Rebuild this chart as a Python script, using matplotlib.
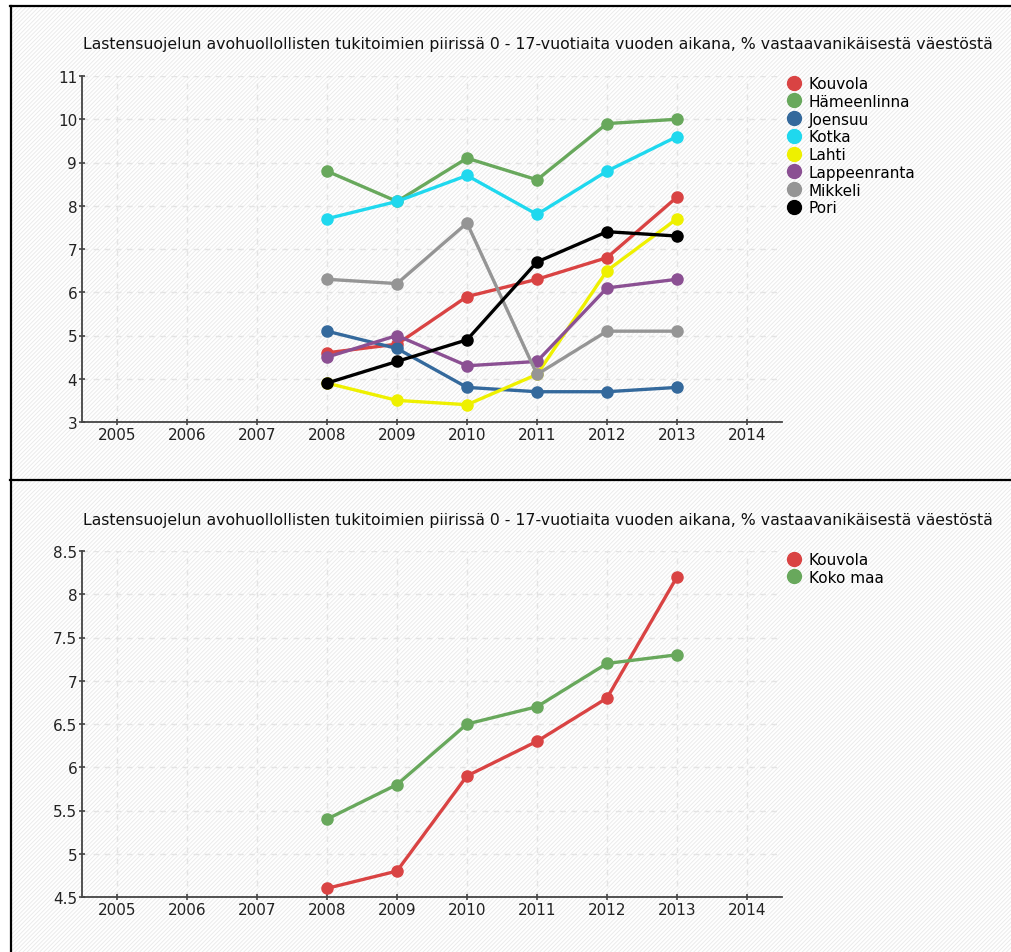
import matplotlib
matplotlib.use("Agg")
import matplotlib.pyplot as plt
from matplotlib.lines import Line2D
from matplotlib.patches import Rectangle

# ── Data ────────────────────────────────────────────────────────────────────
TITLE = ("Lastensuojelun avohuollollisten tukitoimien piirissä 0 - 17-vuotiaita "
         "vuoden aikana, % vastaavanikäisestä väestöstä")
YEARS = [2008, 2009, 2010, 2011, 2012, 2013]
XTICKS = [2005, 2006, 2007, 2008, 2009, 2010, 2011, 2012, 2013, 2014]

CITIES = ["Kouvola", "Hämeenlinna", "Joensuu", "Kotka", "Lahti",
          "Lappeenranta", "Mikkeli", "Pori"]
KOUVOLA = [4.6, 4.8, 5.9, 6.3, 6.8, 8.2]
HAMEENLINNA = [8.8, 8.1, 9.1, 8.6, 9.9, 10.0]
JOENSUU = [5.1, 4.7, 3.8, 3.7, 3.7, 3.8]
KOTKA = [7.7, 8.1, 8.7, 7.8, 8.8, 9.6]
LAHTI = [3.9, 3.5, 3.4, 4.1, 6.5, 7.7]
LAPPEENRANTA = [4.5, 5.0, 4.3, 4.4, 6.1, 6.3]
MIKKELI = [6.3, 6.2, 7.6, 4.1, 5.1, 5.1]
PORI = [3.9, 4.4, 4.9, 6.7, 7.4, 7.3]
KOKO_MAA = [5.4, 5.8, 6.5, 6.7, 7.2, 7.3]

TOP_YTICKS = [3, 4, 5, 6, 7, 8, 9, 10, 11]
BOTTOM_YTICKS = [4.5, 5, 5.5, 6, 6.5, 7, 7.5, 8, 8.5]
BOTTOM_YLABELS = ["4.5", "5", "5.5", "6", "6.5", "7", "7.5", "8", "8.5"]

# ── Colours ─────────────────────────────────────────────────────────────────
COLOURS = {
    "Kouvola": "#d94343",
    "Hämeenlinna": "#68a85c",
    "Joensuu": "#34699c",
    "Kotka": "#1fd8ee",
    "Lahti": "#eef000",
    "Lappeenranta": "#8b5093",
    "Mikkeli": "#959595",
    "Pori": "#000000",
    "Koko maa": "#68a85c",
}

W, H = 1012, 953
plt.rcParams["hatch.linewidth"] = 0.7
plt.rcParams["font.family"] = "DejaVu Sans"

fig = plt.figure(figsize=(W / 100, H / 100), dpi=100)
fig.patch.set_facecolor("white")

# hatched background inside the frame
bg = Rectangle((10 / W, 0), 1 - 10 / W, 1 - 6 / H, transform=fig.transFigure,
               facecolor="white", edgecolor="#ebebeb", hatch="////////",
               linewidth=0, zorder=-10)
fig.patches.append(bg)

# frame lines
for xs, ys in [((10 / W, 1), (1 - 6.5 / H, 1 - 6.5 / H)),
               ((10.5 / W, 10.5 / W), (0, 1 - 6.5 / H)),
               ((10 / W, 1), (1 - 481 / H, 1 - 481 / H))]:
    fig.add_artist(Line2D(xs, ys, transform=fig.transFigure, color="black", linewidth=1.6))


def style_axes(ax, ylim, yticks, ylabels=None):
    ax.set_facecolor("none")
    ax.set_xlim(2004.5, 2014.5)
    ax.set_ylim(*ylim)
    ax.set_xticks(XTICKS)
    ax.set_yticks(yticks)
    if ylabels:
        ax.set_yticklabels(ylabels)
    ax.grid(True, linestyle=(0, (4, 4)), color="#e4e4e4", linewidth=1.0)
    ax.set_axisbelow(True)
    for side in ["top", "right"]:
        ax.spines[side].set_visible(False)
    for side in ["left", "bottom"]:
        ax.spines[side].set_color("#444444")
        ax.spines[side].set_linewidth(1.3)
    ax.tick_params(axis="both", direction="inout", length=5, width=1.2,
                   color="#444444", labelsize=11, labelcolor="#222222", pad=1)


def add_legend(labels, y_top):
    handles = [Line2D([], [], marker="o", linestyle="none", markersize=10,
                      color=COLOURS[l]) for l in labels]
    fig.legend(handles, labels, loc="upper left", bbox_to_anchor=(789 / W, 1 - y_top / H),
               frameon=False, fontsize=11, handlelength=0.7, handletextpad=0.6,
               labelspacing=0.18, borderaxespad=0, borderpad=0)


# ── Top panel ───────────────────────────────────────────────────────────────
ax1 = fig.add_axes([82 / W, 1 - 423 / H, 700 / W, 346 / H])
series = [KOUVOLA, HAMEENLINNA, JOENSUU, KOTKA, LAHTI, LAPPEENRANTA, MIKKELI, PORI]
for name, vals in zip(CITIES, series):
    ax1.plot(YEARS, vals, color=COLOURS[name], linewidth=2.4, marker="o",
             markersize=8, clip_on=False)
style_axes(ax1, (3, 11), TOP_YTICKS)
fig.text(83 / W, 1 - 44 / H, TITLE, fontsize=11.3, color="#111111", va="center", ha="left")
add_legend(CITIES, 77)

# ── Bottom panel ────────────────────────────────────────────────────────────
ax2 = fig.add_axes([82 / W, 1 - 898 / H, 700 / W, 346 / H])
for name, vals in [("Kouvola", KOUVOLA), ("Koko maa", KOKO_MAA)]:
    ax2.plot(YEARS, vals, color=COLOURS[name], linewidth=2.4, marker="o",
             markersize=8, clip_on=False)
style_axes(ax2, (4.5, 8.5), BOTTOM_YTICKS, BOTTOM_YLABELS)
fig.text(83 / W, 1 - 520 / H, TITLE, fontsize=11.3, color="#111111", va="center", ha="left")
add_legend(["Kouvola", "Koko maa"], 553)

fig.savefig("out.png", dpi=100, facecolor="white")
